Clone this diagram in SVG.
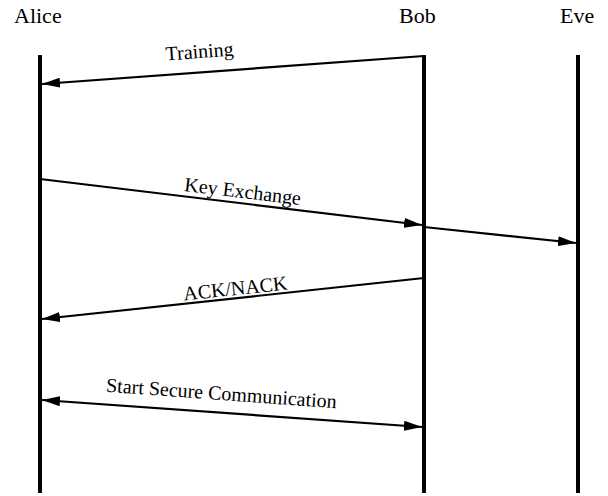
<svg xmlns="http://www.w3.org/2000/svg" width="608" height="496" viewBox="0 0 608 496">
  <style>
    .name { font-family: "Liberation Serif", "Times New Roman", serif; font-size: 22px; fill: #000; }
    .lbl { font-family: "Liberation Serif", "Times New Roman", serif; font-size: 20px; fill: #000; text-anchor: middle; }
    .life { stroke: #000; stroke-width: 4; fill: none; }
    .msg { stroke: #000; stroke-width: 2.2; fill: none; }
  </style>
  <defs>
    <marker id="head" viewBox="0 0 18 10" refX="18" refY="5" markerWidth="18" markerHeight="10" markerUnits="userSpaceOnUse" orient="auto-start-reverse">
      <path d="M0,0 L18,5 L0,10 Z" fill="#000"/>
    </marker>
  </defs>

  <rect width="608" height="496" fill="#fff"/>

  <!-- participants with their lifelines -->
  <g id="alice">
    <text class="name" x="14" y="23">Alice</text>
    <line class="life" x1="40" y1="55" x2="40" y2="493"/>
  </g>
  <g id="bob">
    <text class="name" x="399" y="23">Bob</text>
    <line class="life" x1="424" y1="55" x2="424" y2="493"/>
  </g>
  <g id="eve">
    <text class="name" x="560" y="23">Eve</text>
    <line class="life" x1="578" y1="55" x2="578" y2="493"/>
  </g>

  <!-- messages -->
  <g id="connectors">
    <line class="msg" x1="424" y1="56" x2="42" y2="84" marker-end="url(#head)"/>
    <text class="lbl" transform="translate(200,58) rotate(-4.2)">Training</text>

    <line class="msg" x1="40" y1="179" x2="422" y2="225" marker-end="url(#head)"/>
    <text class="lbl" transform="translate(242,198) rotate(6.8)">Key Exchange</text>

    <line class="msg" x1="424" y1="227" x2="576" y2="243" marker-end="url(#head)"/>

    <line class="msg" x1="424" y1="278" x2="42" y2="319" marker-end="url(#head)"/>
    <text class="lbl" transform="translate(236,295) rotate(-6.1)">ACK/NACK</text>

    <line class="msg" x1="42" y1="400" x2="422" y2="427" marker-start="url(#head)" marker-end="url(#head)"/>
    <text class="lbl" transform="translate(221,400) rotate(4.1)">Start Secure Communication</text>
  </g>
</svg>
